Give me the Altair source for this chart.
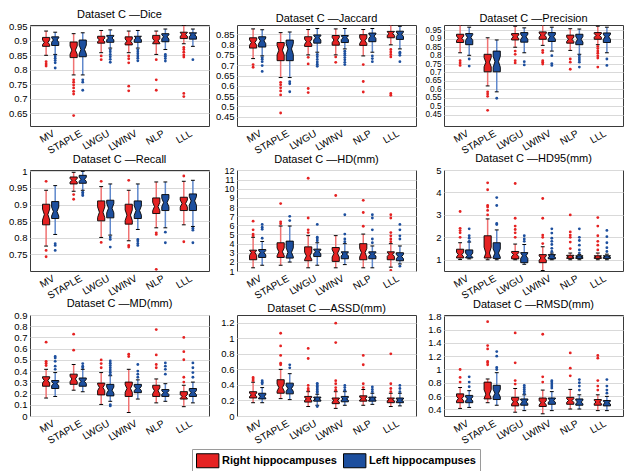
import json
import altair as alt
import pandas as pd

methods = ["MV", "STAPLE", "LWGU", "LWINV", "NLP", "LLL"]
groups = ["Right hippocampuses", "Left hippocampuses"]

# stats per method: [whisker_low, q1, median, q3, whisker_high]
dice_R = [[0.850, 0.881, 0.895, 0.912, 0.934], [0.782, 0.842, 0.868, 0.896, 0.925], [0.859, 0.892, 0.903, 0.916, 0.936],
          [0.859, 0.886, 0.899, 0.914, 0.934], [0.853, 0.890, 0.900, 0.919, 0.934], [0.890, 0.908, 0.922, 0.930, 0.954]]
dice_L = [[0.853, 0.884, 0.903, 0.914, 0.930], [0.782, 0.845, 0.870, 0.903, 0.928], [0.875, 0.895, 0.910, 0.919, 0.938],
          [0.875, 0.895, 0.910, 0.916, 0.936], [0.870, 0.897, 0.914, 0.925, 0.941], [0.881, 0.906, 0.921, 0.928, 0.941]]
dice_R_out = [[0.828, 0.820, 0.813], [0.765, 0.757, 0.747, 0.737, 0.725, 0.716, 0.641], [0.848, 0.835],
              [0.848, 0.838, 0.824, 0.743, 0.727], [0.835, 0.765, 0.729], [0.877, 0.870, 0.861, 0.851, 0.844, 0.718, 0.707]]
dice_L_out = [[0.848, 0.840, 0.832, 0.824, 0.806], [0.765, 0.757, 0.729], [0.869, 0.862, 0.853, 0.845, 0.836, 0.826],
              [0.869, 0.862, 0.855, 0.848, 0.840, 0.831], [0.853, 0.847, 0.839, 0.830], [0.835]]
dice_domain = [0.605, 0.955]
dice_ticks = [0.65, 0.7, 0.75, 0.8, 0.85, 0.9, 0.95]

jac_R = [[0.732, 0.783, 0.810, 0.833, 0.876], [0.640, 0.722, 0.773, 0.810, 0.858], [0.750, 0.791, 0.814, 0.838, 0.873],
         [0.750, 0.797, 0.822, 0.844, 0.876], [0.745, 0.796, 0.819, 0.848, 0.873], [0.799, 0.833, 0.853, 0.864, 0.895]]
jac_L = [[0.745, 0.788, 0.818, 0.838, 0.872], [0.640, 0.722, 0.779, 0.822, 0.861], [0.763, 0.807, 0.833, 0.847, 0.878],
         [0.779, 0.810, 0.833, 0.844, 0.878], [0.763, 0.814, 0.841, 0.856, 0.878], [0.779, 0.825, 0.850, 0.865, 0.889]]
jac_R_out = [[0.703, 0.690], [0.617, 0.605, 0.590, 0.575, 0.556, 0.468], [0.738, 0.706, 0.587, 0.567],
             [0.740, 0.714], [0.703, 0.621, 0.570], [0.776, 0.764, 0.752, 0.740, 0.563, 0.554]]
jac_L_out = [[0.737, 0.729, 0.717, 0.698, 0.670], [0.620, 0.610, 0.571], [0.752, 0.741, 0.728, 0.716, 0.705, 0.695],
             [0.768, 0.757, 0.748, 0.737, 0.726, 0.714, 0.703], [0.745, 0.732, 0.717], [0.763, 0.757, 0.748, 0.717]]
jac_domain = [0.405, 0.895]
jac_ticks = [0.45, 0.5, 0.55, 0.6, 0.65, 0.7, 0.75, 0.8, 0.85]

prec_R = [[0.817, 0.878, 0.903, 0.927, 0.982], [0.620, 0.704, 0.761, 0.808, 0.906], [0.850, 0.893, 0.912, 0.931, 0.975],
          [0.861, 0.897, 0.922, 0.941, 0.982], [0.831, 0.874, 0.897, 0.922, 0.960], [0.865, 0.897, 0.920, 0.937, 0.975]]
prec_L = [[0.802, 0.865, 0.908, 0.931, 0.969], [0.585, 0.704, 0.764, 0.827, 0.893], [0.817, 0.880, 0.912, 0.937, 0.965],
          [0.827, 0.884, 0.912, 0.937, 0.969], [0.808, 0.865, 0.897, 0.927, 0.958], [0.817, 0.878, 0.912, 0.935, 0.969]]
prec_R_out = [[0.770, 0.757, 0.742], [0.585, 0.572, 0.558, 0.475], [0.827, 0.808, 0.770, 0.757],
              [0.831, 0.818, 0.770, 0.761, 0.750], [0.780, 0.761, 0.719], [0.855, 0.842, 0.827, 0.814, 0.799, 0.786, 0.732]]
prec_L_out = [[0.780, 0.738], [0.547], [0.764, 0.745], [0.800, 0.753, 0.742], [0.799, 0.786, 0.774, 0.761, 0.732], [0.780, 0.742]]
prec_domain = [0.382, 0.982]
prec_ticks = [0.45, 0.5, 0.55, 0.6, 0.65, 0.7, 0.75, 0.8, 0.85, 0.9, 0.95]

rec_R = [[0.775, 0.839, 0.870, 0.901, 0.943], [0.940, 0.962, 0.973, 0.983, 0.997], [0.801, 0.851, 0.877, 0.911, 0.954],
         [0.791, 0.841, 0.868, 0.901, 0.943], [0.830, 0.873, 0.894, 0.920, 0.968], [0.839, 0.882, 0.903, 0.922, 0.970]]
rec_L = [[0.810, 0.858, 0.879, 0.909, 0.957], [0.943, 0.964, 0.976, 0.988, 1.000], [0.808, 0.860, 0.889, 0.913, 0.962],
         [0.825, 0.858, 0.882, 0.911, 0.962], [0.830, 0.882, 0.906, 0.930, 0.968], [0.834, 0.882, 0.911, 0.932, 0.973]]
rec_R_out = [[0.970, 0.762, 0.743], [0.930, 0.916], [0.970, 0.786], [0.973, 0.777, 0.772], [0.815, 0.810, 0.705], [0.986, 0.788]]
rec_L_out = [[0.782, 0.777, 0.762], [0.937, 0.932, 0.927], [0.802, 0.795, 0.772], [0.795, 0.790, 0.783, 0.777],
             [0.817, 0.785], [0.829, 0.823, 0.785]]
rec_domain = [0.70, 1.004]
rec_ticks = [0.75, 0.8, 0.85, 0.9, 0.95, 1.0]

hd_R = [[1.35, 2.23, 3.00, 3.28, 4.69], [1.63, 2.48, 3.10, 4.09, 5.92], [1.35, 2.12, 2.65, 3.64, 4.87],
        [1.35, 2.05, 2.93, 3.57, 4.87], [1.35, 2.23, 3.00, 3.99, 5.04], [1.42, 2.23, 2.83, 3.10, 3.99]]
hd_L = [[1.63, 2.48, 3.00, 3.35, 4.23], [1.98, 2.41, 3.04, 4.27, 5.92], [1.63, 2.58, 3.10, 3.39, 4.09],
        [1.70, 2.34, 2.86, 3.10, 3.99], [1.35, 2.34, 2.83, 3.10, 3.74], [1.77, 2.12, 2.58, 3.00, 3.74]]
hd_R_out = [[4.85, 5.04, 5.5, 6.45], [6.17, 6.38, 8.38], [5.2, 5.5, 6.8, 11.15], [9.26], [5.9, 7.4, 8.73],
            [4.2, 4.5, 4.85, 5.2, 6.8, 7.15, 1.07]]
hd_L_out = [[4.58, 5.57, 5.8, 6.1], [6.52, 6.98], [4.3, 4.5, 4.7, 6.1], [4.2, 4.5, 5.04, 7.15], [4.09, 4.5, 5.5, 6.8, 7.15],
            [4.5, 4.85, 5.5, 6.1, 1.53]]
hd_domain = [1.0, 12.05]
hd_ticks = [1, 2, 3, 4, 5, 6, 7, 8, 9, 10, 11, 12]

hd95_R = [[1.01, 1.08, 1.23, 1.47, 1.76], [1.00, 1.08, 1.30, 2.07, 2.82], [1.00, 1.04, 1.23, 1.37, 1.70],
          [0.52, 0.87, 1.08, 1.23, 1.58], [1.00, 1.06, 1.13, 1.20, 1.30], [1.00, 1.06, 1.13, 1.18, 1.30]]
hd95_L = [[1.04, 1.08, 1.20, 1.44, 1.79], [1.00, 1.06, 1.30, 1.76, 2.33], [0.80, 0.87, 1.18, 1.32, 1.68],
          [1.00, 1.04, 1.16, 1.23, 1.30], [1.00, 1.06, 1.13, 1.18, 1.23], [1.00, 1.06, 1.14, 1.18, 1.25]]
hd95_R_out = [[2.0, 2.2, 2.3, 2.4, 3.15], [3.0, 3.2, 3.35, 3.42, 4.12, 4.43], [2.0, 2.2, 2.35, 2.5, 2.85, 4.4],
              [1.72, 2.0, 2.1, 2.85, 3.73], [1.5, 1.79, 2.0, 2.1, 2.24, 3.0], [1.44, 1.65, 1.82, 2.07, 2.5, 2.88]]
hd95_L_out = [[1.82, 1.96, 2.07, 2.38], [2.57, 2.62, 3.42, 3.77], [1.82, 1.93, 2.07],
              [1.37, 1.51, 1.68, 1.82, 1.96, 2.19, 2.38], [1.3, 1.44, 1.65, 1.86, 2.0, 2.38], [1.37, 1.54, 1.76, 2.03, 2.31]]
hd95_domain = [0.5, 5.0]
hd95_ticks = [1, 2, 3, 4, 5]

md_R = [[0.160, 0.265, 0.316, 0.350, 0.416], [0.230, 0.282, 0.330, 0.373, 0.459], [0.103, 0.188, 0.254, 0.293, 0.387],
        [0.031, 0.174, 0.245, 0.302, 0.416], [0.117, 0.174, 0.225, 0.274, 0.330], [0.083, 0.151, 0.174, 0.217, 0.274]]
md_L = [[0.174, 0.245, 0.288, 0.316, 0.387], [0.216, 0.265, 0.308, 0.339, 0.416], [0.131, 0.179, 0.230, 0.282, 0.359],
        [0.151, 0.208, 0.245, 0.282, 0.322], [0.131, 0.174, 0.208, 0.236, 0.288], [0.117, 0.174, 0.208, 0.245, 0.302]]
md_R_out = [[0.450, 0.470, 0.487, 0.658], [0.587, 0.729], [0.430, 0.467, 0.500], [0.530, 0.550],
            [0.430, 0.459, 0.544, 0.770], [0.302, 0.345, 0.501, 0.573, 0.700]]
md_L_out = [[0.416, 0.444, 0.487, 0.516, 0.530], [0.430, 0.444, 0.467], [0.37, 0.39, 0.41, 0.43, 0.45, 0.47, 0.49, 0.09, 0.10],
            [0.345, 0.373, 0.400, 0.459], [0.373, 0.416, 0.444, 0.473], [0.345, 0.387, 0.430, 0.473]]
md_domain = [0.0, 0.9]
md_ticks = [0, 0.1, 0.2, 0.3, 0.4, 0.5, 0.6, 0.7, 0.8, 0.9]

assd_R = [[0.171, 0.232, 0.272, 0.313, 0.435], [0.224, 0.293, 0.366, 0.467, 0.600], [0.122, 0.179, 0.220, 0.252, 0.313],
          [0.098, 0.159, 0.200, 0.232, 0.313], [0.138, 0.191, 0.224, 0.260, 0.341], [0.122, 0.171, 0.211, 0.232, 0.293]]
assd_L = [[0.171, 0.220, 0.252, 0.293, 0.366], [0.211, 0.285, 0.354, 0.423, 0.545], [0.138, 0.191, 0.220, 0.244, 0.280],
          [0.138, 0.183, 0.220, 0.252, 0.313], [0.150, 0.191, 0.220, 0.244, 0.293], [0.130, 0.171, 0.203, 0.232, 0.293]]
assd_R_out = [[0.455, 0.476, 0.496], [0.659, 0.680, 0.780, 0.902, 1.065], [0.333, 0.354, 0.394, 0.740, 0.870],
              [0.333, 0.366, 0.415, 0.455, 0.945, 1.195], [0.366, 0.415, 0.660, 0.780], [0.313, 0.354, 0.415, 0.800]]
assd_L_out = [[0.415, 0.435, 0.455], [0.620, 0.659], [0.30, 0.32, 0.34, 0.36, 0.38, 0.40, 0.42, 0.122],
              [0.333, 0.366, 0.394], [0.313, 0.341, 0.374], [0.313, 0.354, 0.394]]
assd_domain = [0.0, 1.3]
assd_ticks = [0, 0.2, 0.4, 0.6, 0.8, 1.0, 1.2]

rmsd_R = [[0.414, 0.500, 0.562, 0.633, 0.729], [0.500, 0.557, 0.629, 0.810, 0.857], [0.357, 0.452, 0.514, 0.581, 0.714],
          [0.333, 0.443, 0.500, 0.571, 0.690], [0.405, 0.476, 0.533, 0.581, 0.700], [0.381, 0.462, 0.510, 0.548, 0.619]]
rmsd_L = [[0.429, 0.500, 0.557, 0.610, 0.681], [0.462, 0.548, 0.643, 0.762, 0.952], [0.381, 0.462, 0.514, 0.557, 0.619],
          [0.381, 0.476, 0.533, 0.571, 0.667], [0.405, 0.462, 0.510, 0.557, 0.619], [0.381, 0.452, 0.500, 0.533, 0.595]]
rmsd_R_out = [[0.810, 0.881, 1.000], [1.07, 1.10, 1.12, 1.31, 1.36, 1.72], [0.780, 0.833, 1.10, 1.55],
              [0.810, 0.890, 1.53], [0.905, 1.02, 1.25], [0.690, 0.750, 0.833, 1.17, 1.21]]
rmsd_L_out = [[0.740, 0.810, 0.890], [1.00, 1.03, 1.20, 1.27], [0.64, 0.67, 0.70, 0.73, 0.76],
              [0.72, 0.75, 0.78, 0.81, 0.83], [0.690, 0.750, 0.800, 0.848], [0.643, 0.690, 0.750, 0.848]]
rmsd_domain = [0.3, 1.82]
rmsd_ticks = [0.4, 0.6, 0.8, 1.0, 1.2, 1.4, 1.6, 1.8]

titles = ["Dataset C \u2014Dice", "Dataset C \u2014Jaccard", "Dataset C \u2014Precision",
          "Dataset C \u2014Recall", "Dataset C \u2014HD(mm)", "Dataset C \u2014HD95(mm)",
          "Dataset C \u2014MD(mm)", "Dataset C \u2014ASSD(mm)", "Dataset C \u2014RMSD(mm)"]
ylabel_sizes = [9.5, 9.5, 8.2, 9.5, 9, 9.5, 9.5, 9.5, 9.5]

RED, BLUE = "#e52222", "#1d4f9e"
RED_W, BLUE_W = "#f07272", "#5f88cc"
FONT = "Liberation Sans"
W, H = 179, 101
OFF, BW, NW, CW = 0.165, 0.13, 0.065, 0.07
NOTCH = 1.57 / 35 ** 0.5  # notch half-width factor on the IQR

label_expr = json.dumps(methods) + "[datum.value - 1]"


def panel(title, R, L, Rout, Lout, domain, ticks, ysize):
    poly, whisk, caps, outs = [], [], [], []
    for gi, (stats, outl, grp, wc, oc) in enumerate([(R, Rout, groups[0], RED_W, RED), (L, Lout, groups[1], BLUE_W, BLUE)]):
        off = -OFF if gi == 0 else OFF
        for mi, m in enumerate(methods):
            c = mi + 1 + off
            wlo, q1, med, q3, whi = stats[mi]
            half = NOTCH * (q3 - q1)
            nlo, nhi = max(q1, med - half), min(q3, med + half)
            for y, w in [(q1, BW), (nlo, BW), (med, NW), (nhi, BW), (q3, BW)]:
                poly.append(dict(box=f"{m}-{gi}", grp=grp, y=y, xl=c - w, xr=c + w))
            whisk += [dict(x=c, y=q3, y2=whi, col=wc), dict(x=c, y=wlo, y2=q1, col=wc)]
            caps += [dict(x=c - CW, x2=c + CW, y=whi), dict(x=c - CW, x2=c + CW, y=wlo)]
            outs += [dict(x=c, y=v, col=oc) for v in outl[mi]]

    def X(field, **kw):
        return alt.X(field, type="quantitative",
                     scale=alt.Scale(domain=[0.25, 6.75], nice=False, zero=False),
                     axis=alt.Axis(values=list(range(1, 7)), labelExpr=label_expr, labelAngle=330,
                                   labelAlign="right", labelBaseline="top", grid=False, ticks=False,
                                   domain=False, title=None, labelPadding=2, labelOverlap=False,
                                   labelFlush=False, labelFontSize=10), **kw)

    def Y(field):
        return alt.Y(field, type="quantitative", scale=alt.Scale(domain=domain, nice=False, zero=False),
                     axis=alt.Axis(values=ticks, format="~g", grid=True, ticks=False, domain=False,
                                   title=None, labelPadding=3, labelOverlap=False, labelFlush=False,
                                   labelFontSize=ysize))

    wl = alt.Chart(pd.DataFrame(whisk)).mark_rule(strokeWidth=1.5, clip=True).encode(
        x=X("x"), y=Y("y"), y2="y2:Q", color=alt.Color("col:N", scale=None))
    cp = alt.Chart(pd.DataFrame(caps)).mark_rule(strokeWidth=1, color="black", clip=True).encode(
        x=X("x"), x2="x2:Q", y=Y("y"))
    bx = alt.Chart(pd.DataFrame(poly)).mark_area(orient="horizontal", stroke="black", strokeWidth=0.9,
                                                 opacity=1, clip=True).encode(
        y=Y("y"), x=X("xl", stack=None), x2="xr:Q", detail="box:N",
        color=alt.Color("grp:N", scale=alt.Scale(domain=groups, range=[RED, BLUE]),
                        legend=alt.Legend(title=None, orient="none", legendX=162, legendY=424,
                                          direction="horizontal")))
    ot = alt.Chart(pd.DataFrame(outs)).mark_circle(size=8, opacity=1, clip=True).encode(
        x=X("x"), y=Y("y"), color=alt.Color("col:N", scale=None))
    return alt.layer(wl, cp, bx, ot).properties(width=W, height=H, title=title)


sets = [(dice_R, dice_L, dice_R_out, dice_L_out, dice_domain, dice_ticks),
        (jac_R, jac_L, jac_R_out, jac_L_out, jac_domain, jac_ticks),
        (prec_R, prec_L, prec_R_out, prec_L_out, prec_domain, prec_ticks),
        (rec_R, rec_L, rec_R_out, rec_L_out, rec_domain, rec_ticks),
        (hd_R, hd_L, hd_R_out, hd_L_out, hd_domain, hd_ticks),
        (hd95_R, hd95_L, hd95_R_out, hd95_L_out, hd95_domain, hd95_ticks),
        (md_R, md_L, md_R_out, md_L_out, md_domain, md_ticks),
        (assd_R, assd_L, assd_R_out, assd_L_out, assd_domain, assd_ticks),
        (rmsd_R, rmsd_L, rmsd_R_out, rmsd_L_out, rmsd_domain, rmsd_ticks)]

panels = [panel(titles[i], *sets[i], ylabel_sizes[i]) for i in range(9)]

chart = alt.concat(*panels, columns=3, spacing=alt.RowColnumber(row=44, column=28), bounds="flush").resolve_scale(
    color="shared").properties(
    padding={"left": 0, "top": 0, "right": 0, "bottom": 0}
).configure_view(stroke="#3a3a3a", strokeWidth=1).configure_axis(
    labelFont=FONT, labelColor="black", gridColor="#d9d9d9", gridWidth=1
).configure_title(
    font=FONT, fontSize=11, fontWeight="normal", color="black", offset=1, anchor="middle"
).configure_legend(
    symbolType="M-1,-1H2.2V1H-1Z", symbolSize=196, symbolStrokeColor="black", symbolStrokeWidth=1,
    symbolOpacity=1, labelFont=FONT, labelFontSize=11, labelFontWeight="bold", labelColor="black",
    labelOffset=11, columnPadding=4, strokeColor="#9a9a9a", fillColor="white", padding=4
)

chart.save("out.html", embed_options={"renderer": "svg", "actions": False})
